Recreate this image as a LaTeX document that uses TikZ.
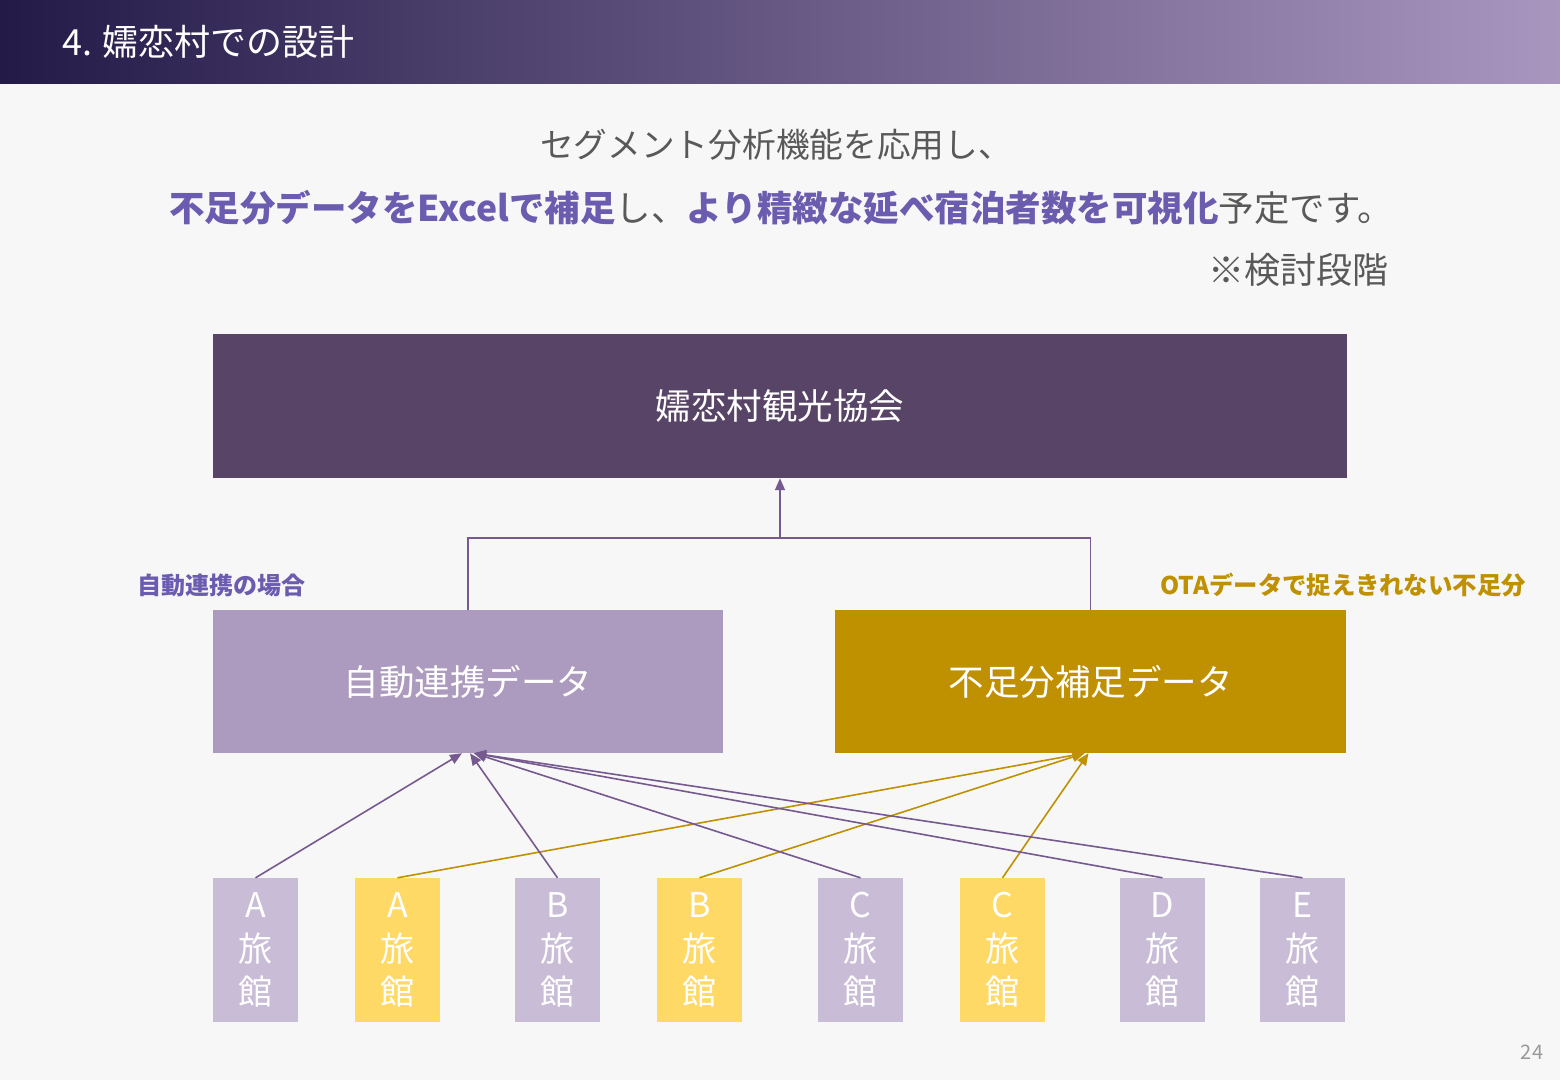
\documentclass[tikz,border=0pt]{standalone}
\usepackage{fontspec}
\usetikzlibrary{arrows.meta,calc}
\setmainfont{Noto Sans CJK JP}
\newfontfamily\cjk{Noto Sans CJK JP}
\definecolor{bg}{HTML}{F7F7F7}
\definecolor{hdl}{HTML}{231A48}
\definecolor{hdr}{HTML}{A996BF}
\definecolor{topc}{HTML}{574466}
\definecolor{autoc}{HTML}{AD9BBF}
\definecolor{goldc}{HTML}{BF9000}
\definecolor{lavc}{HTML}{C9BCD6}
\definecolor{yelc}{HTML}{FFD966}
\definecolor{txtg}{HTML}{595959}
\definecolor{hl}{HTML}{6B5CB0}
\definecolor{linep}{HTML}{76598F}
\begin{document}
\begin{tikzpicture}[x=1pt,y=-1pt,
  bigbox/.style={inner sep=0pt,text=white,font=\cjk\fontsize{35.5}{40}\selectfont},
  inn/.style={inner sep=0pt,minimum width=85pt,minimum height=144pt,text=white,align=center,
    font=\cjk\fontsize{34}{43.5}\selectfont},
  lavbox/.style={inn,fill=lavc},
  yelbox/.style={inn,fill=yelc},
  parrow/.style={draw=linep,line width=1.6pt,-{Triangle[length=12pt,width=10pt]}},
  garrow/.style={draw=goldc,line width=1.6pt,-{Triangle[length=12pt,width=10pt]}},
  pline/.style={draw=linep,line width=1.6pt}
]
\useasboundingbox (0,0) rectangle (1560,1080);
\fill[bg] (0,0) rectangle (1560,1080);
\shade[left color=hdl,right color=hdr] (0,0) rectangle (1560,83);
\node[anchor=west,text=white,font=\cjk\fontsize{36}{40}\selectfont,inner sep=0pt] (title) at (62,42) {4. 嬬恋村での設計};
\node[text=txtg,font=\cjk\fontsize{33.7}{38}\selectfont,inner sep=0pt] (sub1) at (776,145) {セグメント分析機能を応用し、};
\node[text=txtg,font=\cjk\fontsize{35.5}{40}\selectfont,inner sep=0pt] (sub2) at (781,208)
  {\textcolor{hl}{\bfseries 不足分データをExcelで補足}し、\textcolor{hl}{\bfseries より精緻な延べ宿泊者数を可視化}予定です。};
\node[anchor=east,text=txtg,font=\cjk\fontsize{36}{40}\selectfont,inner sep=0pt] (note) at (1389,270) {※検討段階};
\node[bigbox,fill=topc,minimum width=1134pt,minimum height=144pt] (top) at (780,406) {嬬恋村観光協会};
\node[bigbox,fill=autoc,minimum width=510pt,minimum height=143pt] (auto) at (468,681.5) {自動連携データ};
\node[bigbox,fill=goldc,minimum width=511pt,minimum height=143pt] (supp) at (1090.5,681.5) {不足分補足データ};
\node[anchor=west,text=hl,font=\cjk\bfseries\fontsize{24}{28}\selectfont,inner sep=0pt] (lab1) at (137,585) {自動連携の場合};
\node[anchor=east,text=goldc,font=\cjk\bfseries\fontsize{24.4}{28}\selectfont,inner sep=0pt] (lab2) at (1526,585) {OTAデータで捉えきれない不足分};
\coordinate (j) at (780,538);
\draw[pline] (auto.north) |- (j) -| (supp.north);
\draw[parrow] (j) -- (top.south);
\node[lavbox] (a1) at (255.5,950) {A\\旅\\館};
\node[yelbox] (a2) at (397.5,950) {A\\旅\\館};
\node[lavbox] (b1) at (557.5,950) {B\\旅\\館};
\node[yelbox] (b2) at (699.5,950) {B\\旅\\館};
\node[lavbox] (c1) at (860.5,950) {C\\旅\\館};
\node[yelbox] (c2) at (1002.5,950) {C\\旅\\館};
\node[lavbox] (d1) at (1162.5,950) {D\\旅\\館};
\node[lavbox] (e1) at (1302.5,950) {E\\旅\\館};
\draw[garrow] (a2.north) -- ([xshift=-6pt]supp.south);
\draw[garrow] (b2.north) -- ([xshift=-6pt]supp.south);
\draw[garrow] (c2.north) -- ([xshift=-2pt]supp.south);
\draw[parrow] (a1.north) -- ([xshift=-6pt]auto.south);
\draw[parrow] (b1.north) -- ([xshift=2pt]auto.south);
\draw[parrow] (c1.north) -- ([xshift=6pt]auto.south);
\draw[parrow] (d1.north) -- ([xshift=6pt]auto.south);
\draw[parrow] (e1.north) -- ([xshift=6pt]auto.south);
\node[text=black!40,font=\cjk\fontsize{20}{24}\selectfont,inner sep=0pt] (pg) at (1532,1052) {24};
\end{tikzpicture}
\end{document}
